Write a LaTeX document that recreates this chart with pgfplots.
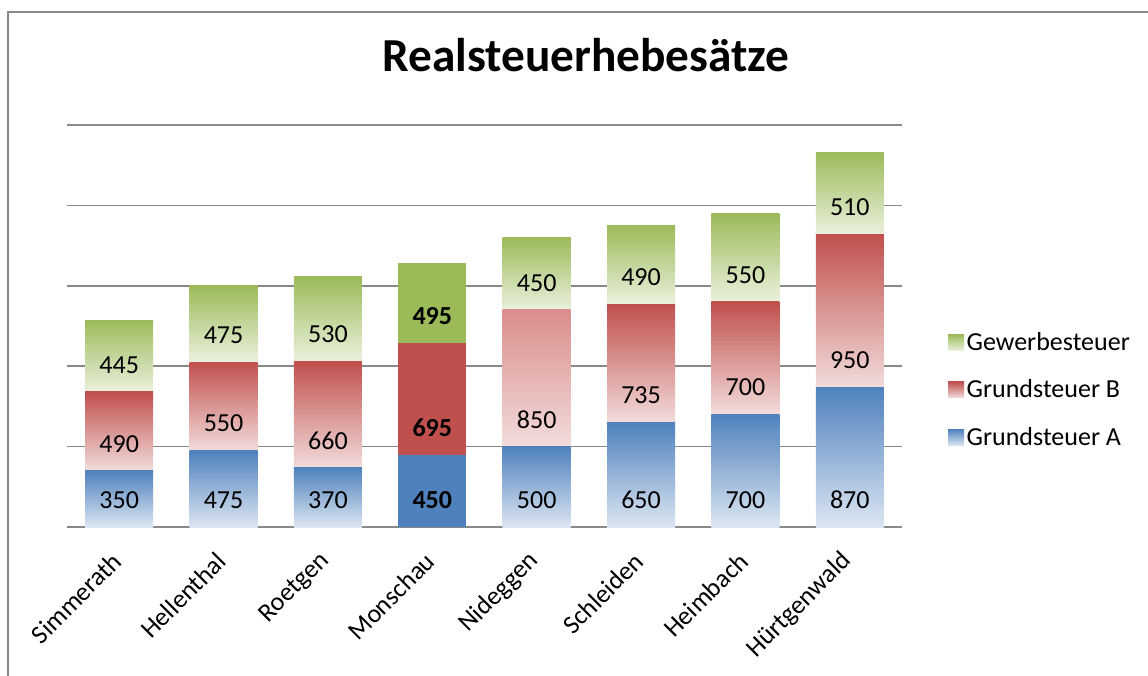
\documentclass[border=0pt]{standalone}
\usepackage{fontspec}
\setmainfont{Carlito}
\usepackage{pgfplots}
\pgfplotsset{compat=1.18}
\definecolor{gridcol}{HTML}{898989}
\definecolor{topA}{HTML}{4F81BD}
\definecolor{botA}{HTML}{DCE6F2}
\definecolor{topB}{HTML}{C0504D}
\definecolor{botB}{HTML}{F2DCDB}
\definecolor{midB}{HTML}{DA8E8C}
\definecolor{topG}{HTML}{9BBB59}
\definecolor{botG}{HTML}{EBF1DE}
\newcommand{\lblfont}{\fontsize{19.5}{23}\selectfont}
\pgfplotsset{
  leg/.style={legend image code/.code={\path[##1] (0pt,-6pt) rectangle (12pt,6pt);}},
  base/.style={
    anchor=south west, at={(0pt,0pt)},
    width=626.25pt, height=301.5pt, scale only axis,
    xmin=-0.5, xmax=7.5, ymin=0, ymax=2500,
  },
  % one stacked column per axis, so that each segment gets its own gradient
  col/.style={
    base, hide axis,
    ybar stacked, bar width=51pt,
    nodes near coords, point meta=rawy,
    visualization depends on={rawy \as \segval},
    every node near coord/.append style={anchor=center, text=black, font=\lblfont,
      yshift={20.25pt-0.0603pt*\segval}},
    /pgf/number format/assume math mode=true,
  },
  sA/.style={draw=none, top color=topA, bottom color=botA},
  sB/.style={draw=none, top color=topB, bottom color=botB},
  sG/.style={draw=none, top color=topG, bottom color=botG},
}

\begin{document}
\begin{tikzpicture}
\begin{axis}[
  base,
  axis x line*=bottom, axis y line*=left,
  x axis line style={gridcol, line width=1.1pt, -},
  y axis line style={draw=none},
  ytick={500,1000,...,2500}, yticklabels={},
  ymajorgrids, grid style={gridcol, line width=1.1pt},
  major tick length=0pt,
  xtick={0,...,7},
  xticklabels={Simmerath,Hellenthal,Roetgen,Monschau,Nideggen,Schleiden,Heimbach,Hürtgenwald},
  x tick label style={rotate=45, anchor=east, font=\lblfont, inner sep=2pt},
  xticklabel shift=21pt,
  legend style={draw=none, fill=none, at={(1.05,0.341)}, anchor=west,
    font=\lblfont, row sep=16.5pt, legend cell align=left},
  reverse legend,
]
\addlegendimage{sA, leg}
\addlegendimage{sB, leg}
\addlegendimage{sG, leg}
\legend{Grundsteuer A, Grundsteuer B, Gewerbesteuer}
\end{axis}
% Simmerath
\begin{axis}[col]
\addplot[sA] coordinates {(0,350)};
\addplot[sB] coordinates {(0,490)};
\addplot[sG] coordinates {(0,445)};
\end{axis}
% Hellenthal
\begin{axis}[col]
\addplot[sA] coordinates {(1,475)};
\addplot[sB] coordinates {(1,550)};
\addplot[sG] coordinates {(1,475)};
\end{axis}
% Roetgen
\begin{axis}[col]
\addplot[sA] coordinates {(2,370)};
\addplot[sB] coordinates {(2,660)};
\addplot[sG] coordinates {(2,530)};
\end{axis}
% Monschau (highlighted)
\begin{axis}[col, every node near coord/.append style={font=\lblfont\bfseries}]
\addplot[draw=none, fill=topA] coordinates {(3,450)};
\addplot[draw=none, fill=topB] coordinates {(3,695)};
\addplot[draw=none, fill=topG] coordinates {(3,495)};
\end{axis}
% Nideggen
\begin{axis}[col]
\addplot[sA] coordinates {(4,500)};
\addplot[draw=none, top color=midB, middle color=botB, bottom color=botB] coordinates {(4,850)};
\addplot[sG] coordinates {(4,450)};
\end{axis}
% Schleiden
\begin{axis}[col]
\addplot[sA] coordinates {(5,650)};
\addplot[sB] coordinates {(5,735)};
\addplot[sG] coordinates {(5,490)};
\end{axis}
% Heimbach
\begin{axis}[col]
\addplot[sA] coordinates {(6,700)};
\addplot[sB] coordinates {(6,700)};
\addplot[sG] coordinates {(6,550)};
\end{axis}
% Huertgenwald
\begin{axis}[col]
\addplot[sA] coordinates {(7,870)};
\addplot[sB] coordinates {(7,950)};
\addplot[sG] coordinates {(7,510)};
\end{axis}
\node[anchor=base, font=\fontsize{35.5}{42}\selectfont\bfseries] at (389.25pt,341.25pt) {Realsteuerhebesätze};
\draw[gridcol, line width=1.1pt] (-44.25pt,-120pt) -- (-44.25pt,386.25pt) -- (830pt,386.25pt);
\pgfresetboundingbox
\useasboundingbox (-50.25pt,-111pt) rectangle (810.75pt,395.25pt);
\end{tikzpicture}
\end{document}
